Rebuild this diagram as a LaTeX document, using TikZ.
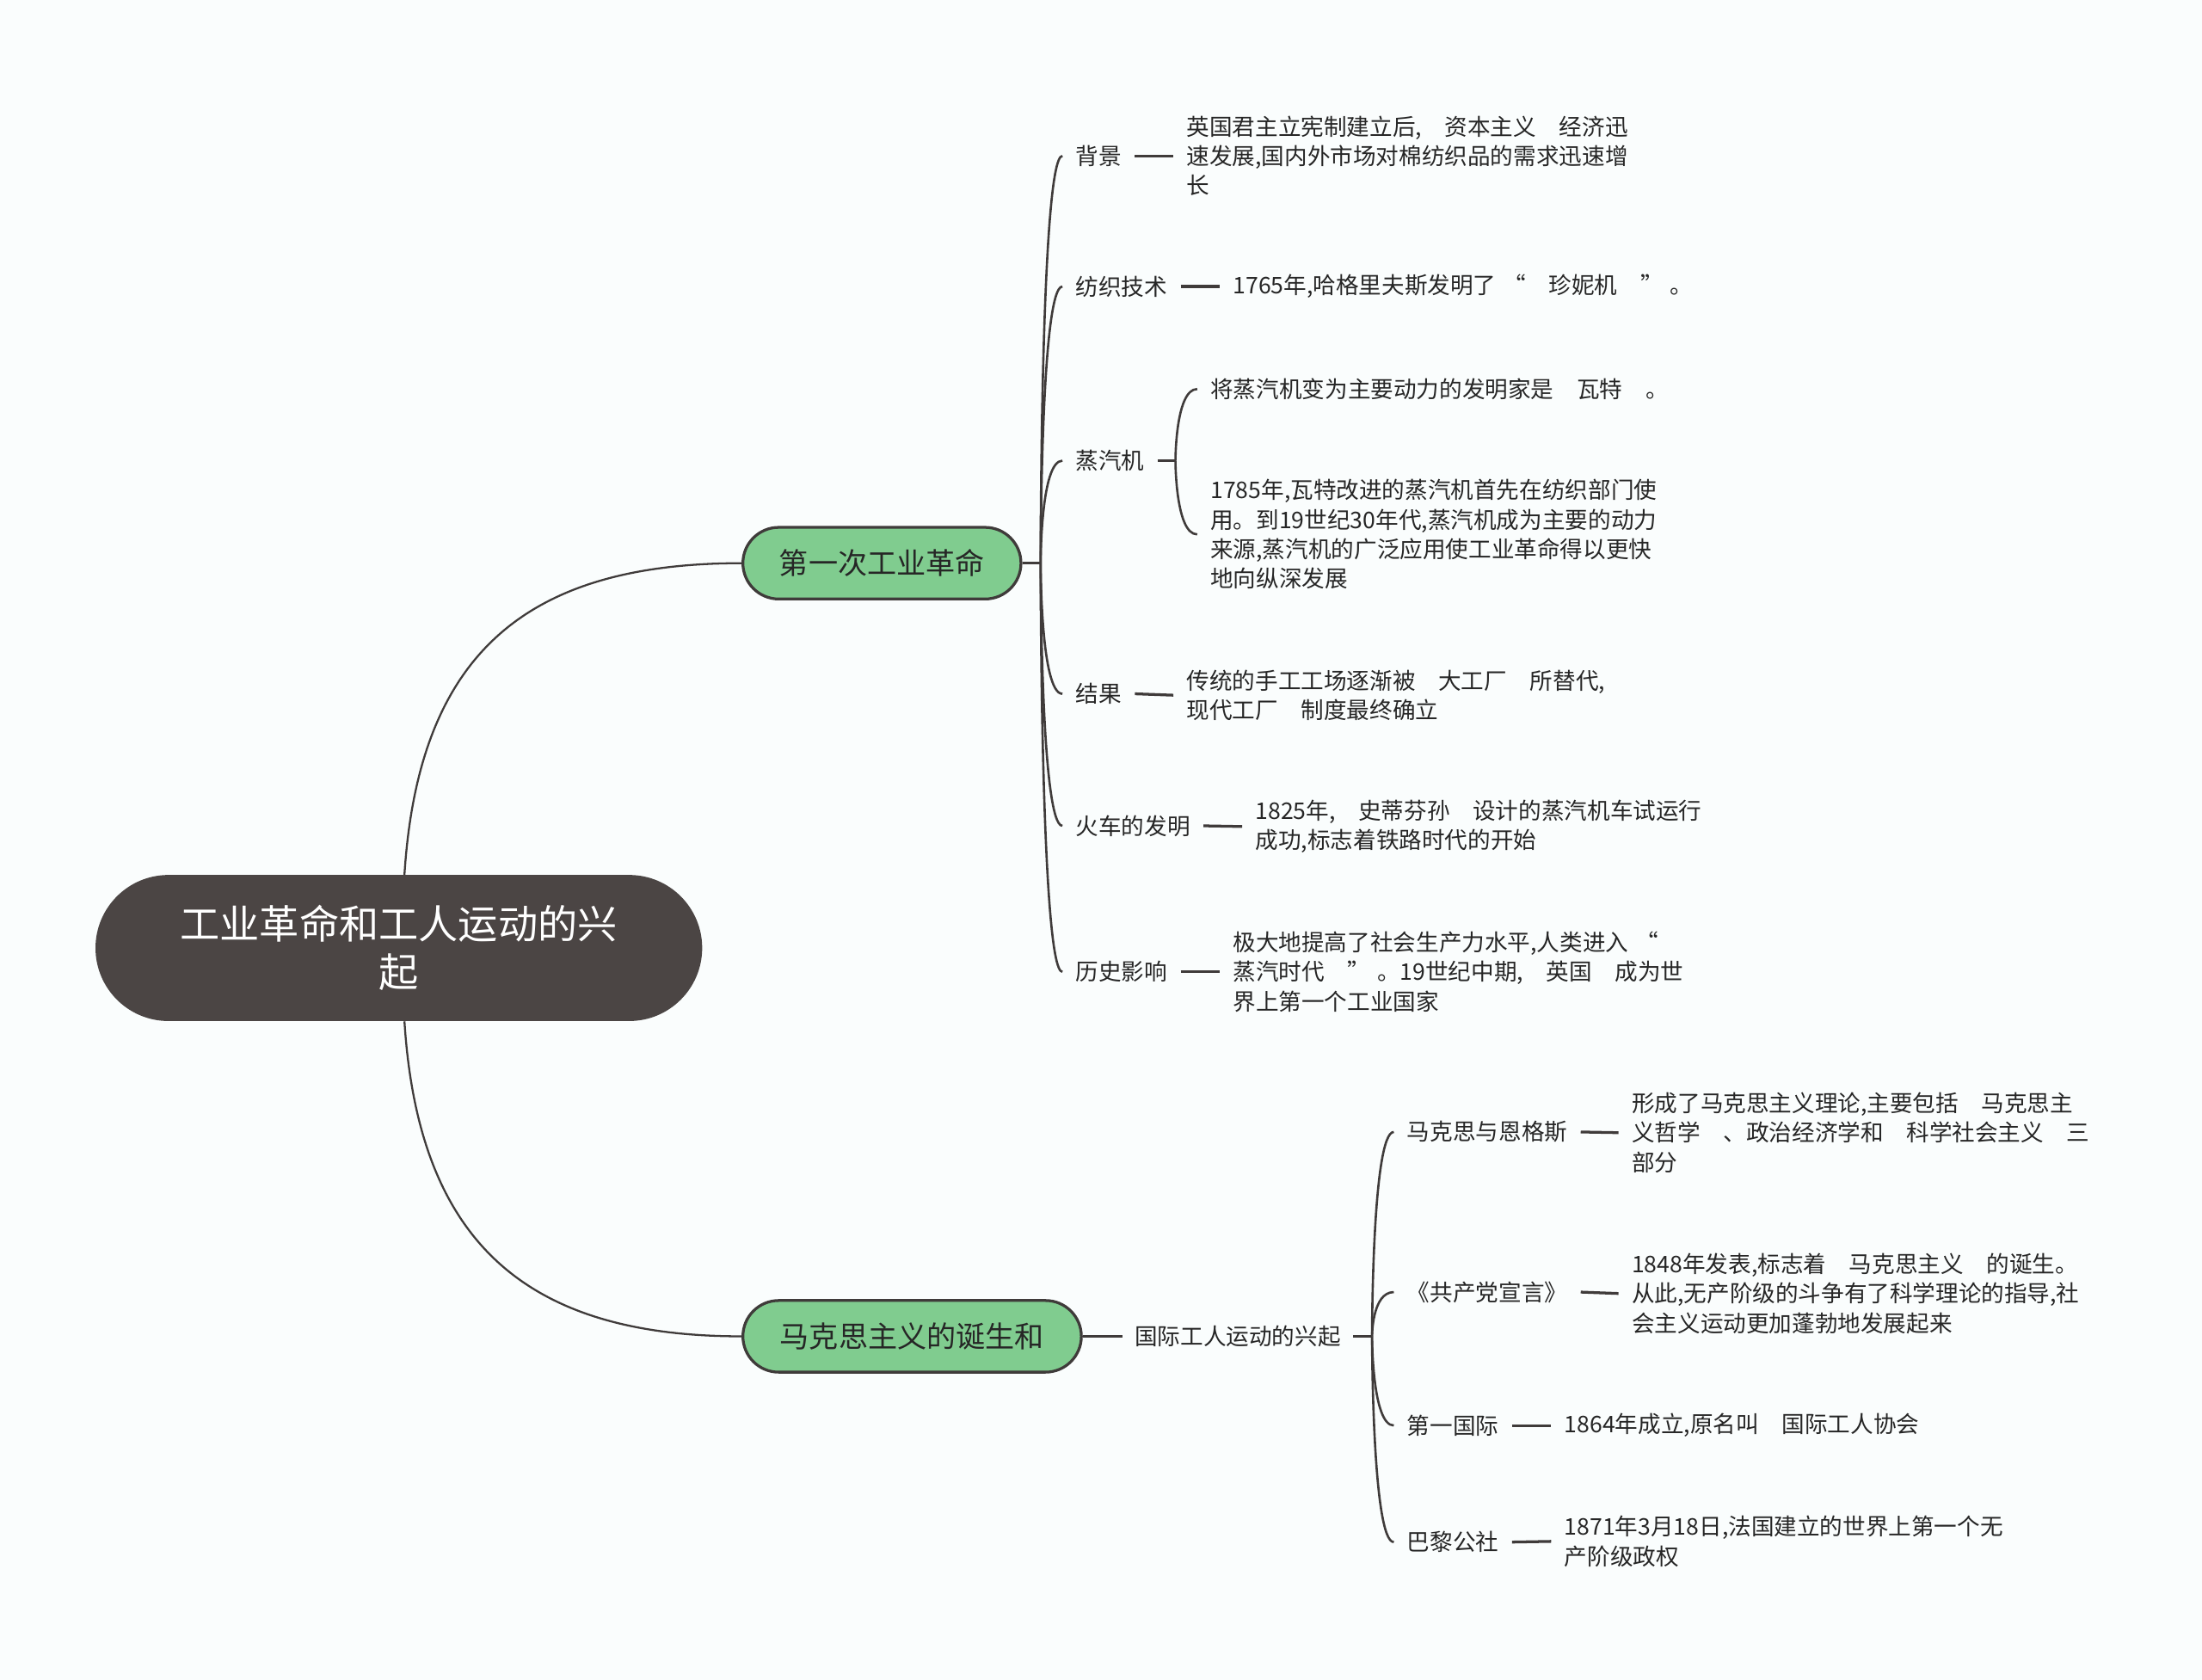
\documentclass[tikz,border=0pt]{standalone}
\usepackage{fontspec}
\setmainfont{Noto Sans CJK SC}
\newcommand{\bk}{\hspace{1em}}
\definecolor{bgcol}{RGB}{250,253,253}
\definecolor{rootcol}{RGB}{75,69,68}
\definecolor{greencol}{RGB}{128,204,143}
\definecolor{linecol}{RGB}{63,59,58}
\definecolor{txtcol}{RGB}{38,38,38}
\begin{document}
\begin{tikzpicture}[x=1pt,y=-1pt,
  rootbox/.style={fill=rootcol, text=white, minimum width=432pt, minimum height=104pt, rounded corners=52pt, inner sep=0pt, align=center, font=\fontsize{28.3}{34}\selectfont},
  mainbox/.style={fill=greencol, draw=linecol, line width=2pt, minimum height=51pt, rounded corners=25.5pt, inner sep=0pt, text=txtcol, font=\fontsize{20.9}{24}\selectfont},
  lbl/.style={anchor=west, inner sep=0pt, outer xsep=9.5pt, text=txtcol, font=\fontsize{16.3}{21}\selectfont, align=left},
  conn/.style={draw=linecol, line width=1.6pt},
  rootline/.style={draw=linecol, line width=1.4pt},
  tick/.style={draw=linecol, line width=2pt},
]
\fill[bgcol] (0,0) rectangle (1568,1196);
\useasboundingbox (0,0) rectangle (1568,1196);

% root and main branches
\node[rootbox] (root) at (284,675) {工业革命和工人运动的兴\\起};
\node[mainbox, minimum width=198pt] (g1) at (628,401) {第一次工业革命};
\node[mainbox, minimum width=241pt] (g2) at (649.5,951.5) {马克思主义的诞生和};

\draw[rootline] ([xshift=4pt]root.north) .. controls (298,465) and (375,401) .. (g1.west);
\draw[rootline] ([xshift=4pt]root.south) .. controls (298,885) and (375,951.5) .. (g2.west);

% branch 1
\coordinate (s1) at (741,401);
\draw[tick] (g1.east) -- (s1);

\node[lbl] (c1) at (756.5,111) {背景};
\node[lbl] (t1) at (835.5,111) {英国君主立宪制建立后,\bk 资本主义\bk 经济迅\\速发展,国内外市场对棉纺织品的需求迅速增\\长};
\node[lbl] (c2) at (756.5,204) {纺织技术};
\node[lbl] (t2) at (868.5,204) {1765年,哈格里夫斯发明了\hspace{0.3em}“\bk 珍妮机\bk ”\hspace{0.3em}。};
\node[lbl] (c3) at (756.5,328) {蒸汽机};
\coordinate (s3) at (837,328);
\node[lbl] (t3a) at (852.5,277) {将蒸汽机变为主要动力的发明家是\bk 瓦特\bk 。};
\node[lbl] (t3b) at (852.5,380.5) {1785年,瓦特改进的蒸汽机首先在纺织部门使\\用。到19世纪30年代,蒸汽机成为主要的动力\\来源,蒸汽机的广泛应用使工业革命得以更快\\地向纵深发展};
\node[lbl] (c4) at (756.5,494) {结果};
\node[lbl] (t4) at (835.5,495) {传统的手工工场逐渐被\bk 大工厂\bk 所替代,\\现代工厂\bk 制度最终确立};
\node[lbl] (c5) at (756.5,588) {火车的发明};
\node[lbl] (t5) at (884.5,588.5) {1825年,\bk 史蒂芬孙\bk 设计的蒸汽机车试运行\\成功,标志着铁路时代的开始};
\node[lbl] (c6) at (756.5,692) {历史影响};
\node[lbl] (t6) at (868.5,692) {极大地提高了社会生产力水平,人类进入\hspace{0.3em}“\\蒸汽时代\bk ”\hspace{0.3em}。19世纪中期,\bk 英国\bk 成为世\\界上第一个工业国家};

\foreach \c in {c1,c2,c3,c4,c5,c6}{
  \draw[conn] (s1) .. controls (s1) and (s1 |- \c.west) .. (\c.west);
}
\draw[tick] (c1.east) -- (t1.west);
\draw[tick] (c2.east) -- (t2.west);
\draw[tick] (c3.east) -- (s3);
\foreach \c in {t3a,t3b}{
  \draw[conn] (s3) .. controls (s3) and (s3 |- \c.west) .. (\c.west);
}
\draw[tick] (c4.east) -- (t4.west);
\draw[tick] (c5.east) -- (t5.west);
\draw[tick] (c6.east) -- (t6.west);

% branch 2
\node[lbl, outer xsep=9pt] (m) at (799,951.5) {国际工人运动的兴起};
\draw[tick] (g2.east) -- (m.west);
\coordinate (s5) at (977,951.5);
\draw[tick] (m.east) -- (s5);

\node[lbl] (d1) at (992.5,806) {马克思与恩格斯};
\node[lbl] (e1) at (1152.5,806.5) {形成了马克思主义理论,主要包括\bk 马克思主\\义哲学\bk 、政治经济学和\bk 科学社会主义\bk 三\\部分};
\node[lbl] (d2) at (992.5,920) {《共产党宣言》};
\node[lbl] (e2) at (1152.5,921) {1848年发表,标志着\bk 马克思主义\bk 的诞生。\\从此,无产阶级的斗争有了科学理论的指导,社\\会主义运动更加蓬勃地发展起来};
\node[lbl] (d3) at (992.5,1015) {第一国际};
\node[lbl] (e3) at (1104.5,1015) {1864年成立,原名叫\bk 国际工人协会};
\node[lbl] (d4) at (992.5,1098) {巴黎公社};
\node[lbl] (e4) at (1104.5,1097.5) {1871年3月18日,法国建立的世界上第一个无\\产阶级政权};

\foreach \c in {d1,d2,d3,d4}{
  \draw[conn] (s5) .. controls (s5) and (s5 |- \c.west) .. (\c.west);
}
\draw[tick] (d1.east) -- (e1.west);
\draw[tick] (d2.east) -- (e2.west);
\draw[tick] (d3.east) -- (e3.west);
\draw[tick] (d4.east) -- (e4.west);
\end{tikzpicture}
\end{document}
